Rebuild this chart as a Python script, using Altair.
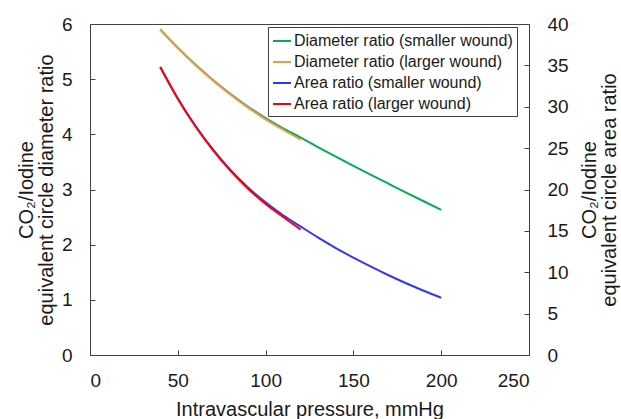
import altair as alt
import pandas as pd

# ---- data ----
pressure_small = [40, 50, 60, 70, 80, 90, 100, 110, 120, 130, 140, 150, 160, 170, 180, 190, 200]
diameter_small = [5.90, 5.57, 5.265, 4.985, 4.73, 4.50, 4.295, 4.11, 3.94, 3.765, 3.595, 3.429, 3.266,
                  3.105, 2.945, 2.787, 2.63]
area_small = [34.8, 31.0, 27.7, 24.85, 22.37, 20.25, 18.45, 16.89, 15.52, 14.18, 12.92, 11.76, 10.67,
              9.64, 8.67, 7.77, 6.92]

pressure_large = [40, 50, 60, 70, 80, 90, 100, 110, 120]
diameter_large = [5.90, 5.565, 5.258, 4.975, 4.717, 4.483, 4.272, 4.083, 3.905]
area_large = [34.8, 30.97, 27.65, 24.75, 22.25, 20.1, 18.25, 16.67, 15.15]

series_names = [
    "Diameter ratio (smaller wound)",
    "Diameter ratio (larger wound)",
    "Area ratio (smaller wound)",
    "Area ratio (larger wound)",
]
series_colors = ["#00b050", "#f79646", "#3333ff", "#ff0000"]

x_ticks = [0, 50, 100, 150, 200, 250]
left_ticks = [0, 1, 2, 3, 4, 5, 6]
right_ticks = [0, 5, 10, 15, 20, 25, 30, 35, 40]

dia_df = pd.concat([
    pd.DataFrame({"pressure": pressure_small, "value": diameter_small, "series": series_names[0]}),
    pd.DataFrame({"pressure": pressure_large, "value": diameter_large, "series": series_names[1]}),
])
area_df = pd.concat([
    pd.DataFrame({"pressure": pressure_small, "value": area_small, "series": series_names[2]}),
    pd.DataFrame({"pressure": pressure_large, "value": area_large, "series": series_names[3]}),
])

FONT = "Liberation Sans"
AX = "#404040"
TXT = "#1a1a1a"

x_enc = alt.X(
    "pressure:Q",
    scale=alt.Scale(domain=[0, 250], nice=False),
    axis=alt.Axis(
        values=x_ticks, title="Intravascular pressure, mmHg", offset=-5,
        domain=False, tickSize=5, tickColor=AX, labelPadding=16,
        titlePadding=9, grid=False,
    ),
)

color_enc = alt.Color(
    "series:N",
    scale=alt.Scale(domain=series_names, range=series_colors),
    sort=series_names,
    legend=alt.Legend(
        orient="none", legendX=178, legendY=3, title=None,
        strokeColor=AX, fillColor="white", padding=4,
        symbolType="stroke", symbolSize=324, symbolStrokeWidth=2,
        labelFontSize=16, labelFont=FONT, labelColor=TXT, labelOffset=2,
        rowPadding=3, labelLimit=400,
    ),
)

left = alt.Chart(dia_df).mark_line(strokeWidth=2, interpolate="monotone").encode(
    x=x_enc,
    y=alt.Y(
        "value:Q",
        scale=alt.Scale(domain=[0, 6], nice=False),
        axis=alt.Axis(
            orient="left", values=left_ticks, offset=-5, domain=False,
            tickSize=5, tickColor=AX, labelPadding=18, grid=False,
            title=["CO\u2082/Iodine", "equivalent circle diameter ratio"],
            titleAngle=270, titleBaseline="bottom", titlePadding=5,
            titleLineHeight=20,
        ),
    ),
    color=color_enc,
    detail="series:N",
)

right = alt.Chart(area_df).mark_line(strokeWidth=2, interpolate="monotone").encode(
    x=x_enc,
    y=alt.Y(
        "value:Q",
        scale=alt.Scale(domain=[0, 40], nice=False),
        axis=alt.Axis(
            orient="right", values=right_ticks, offset=-5, domain=False,
            tickSize=5, tickColor=AX, labelPadding=18, grid=False,
            title=["CO\u2082/Iodine", "equivalent circle area ratio"],
            titleAngle=270, titleBaseline="top", titlePadding=-9,
            titleLineHeight=20,
        ),
    ),
    color=color_enc,
    detail="series:N",
)

chart = alt.layer(left, right).resolve_scale(y="independent").properties(
    width=439, height=331,
    autosize=alt.AutoSizeParams(type="none"),
    padding={"left": 90, "top": 24, "right": 92, "bottom": 64},
    background="white",
).configure_view(
    stroke=AX, strokeWidth=1,
).configure_axis(
    labelFont=FONT, labelFontSize=19, labelColor=TXT,
    titleFont=FONT, titleFontSize=20, titleColor=TXT, titleFontWeight="normal",
)

chart.save("out.html", embed_options={"renderer": "svg", "actions": False})
